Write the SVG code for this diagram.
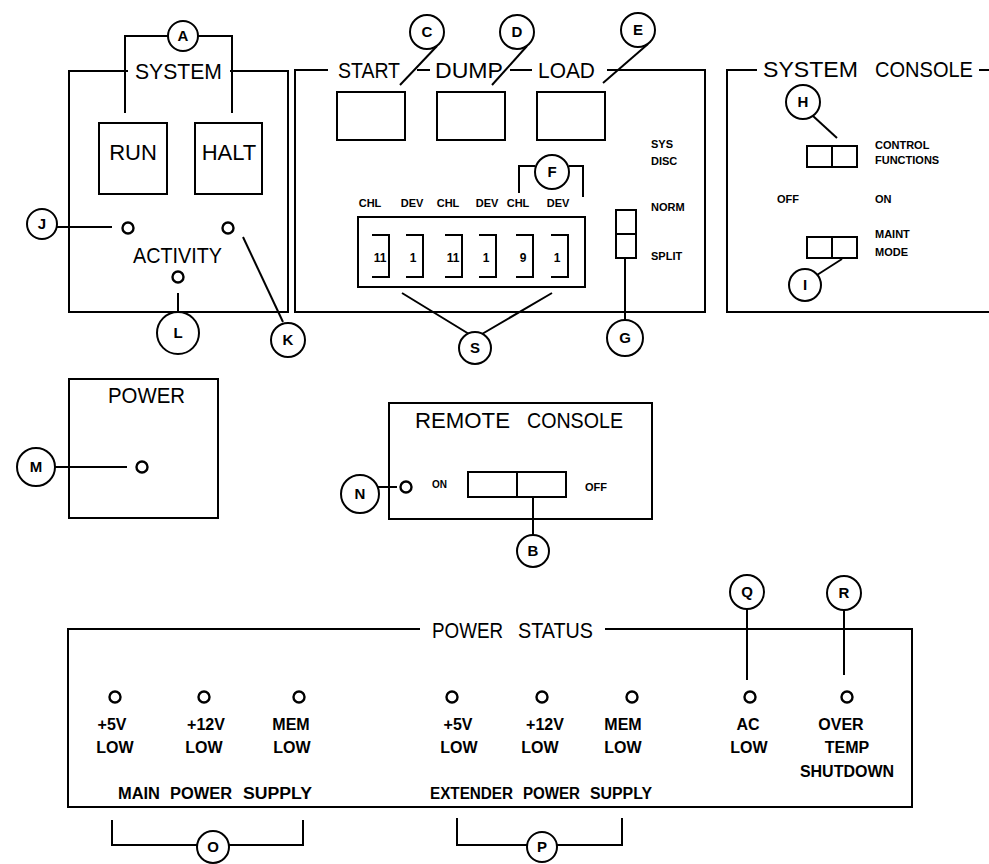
<svg xmlns="http://www.w3.org/2000/svg" width="989" height="864" viewBox="0 0 989 864">
<style>
.ln{fill:none;stroke:#000;stroke-width:2}
.bx{fill:#fff;stroke:#000;stroke-width:2}
.led{fill:#fff;stroke:#000;stroke-width:2.4}
.co{fill:#fff;stroke:#000;stroke-width:2}
text{font-family:"Liberation Sans",Arial,sans-serif;fill:#000}
.t{font-size:22px}
.tm{font-size:22px;text-anchor:middle}
.s{font-size:11px;font-weight:bold}
.sm{font-size:11px;font-weight:bold;text-anchor:middle}
.n{font-size:12px;font-weight:bold;text-anchor:middle}
.p{font-size:16px;font-weight:bold;text-anchor:middle}
.pl{font-size:16px;font-weight:bold}
.c{font-size:15px;font-weight:bold;text-anchor:middle}
</style>
<rect width="989" height="864" fill="#fff"/>

<g id="system-panel">
<path class="ln" d="M128 71 H69 V312 H288 V71 H230"/>
<text class="t" x="135" y="79" textLength="87" lengthAdjust="spacingAndGlyphs">SYSTEM</text>
<rect class="bx" x="99" y="123" width="68" height="71"/>
<rect class="bx" x="195" y="123" width="67" height="71"/>
<text class="tm" x="133" y="160">RUN</text>
<text class="tm" x="229" y="160">HALT</text>
<circle class="led" cx="128" cy="228" r="5.5"/>
<circle class="led" cx="228" cy="228" r="5.5"/>
<circle class="led" cx="178" cy="277" r="5.5"/>
<text class="t" x="133" y="263" textLength="89" lengthAdjust="spacingAndGlyphs">ACTIVITY</text>
</g>

<g id="control-panel">
<path class="ln" d="M328 70 H295 V312 H705 V70 H607"/>
<path class="ln" d="M417 70 H430 M510 70 H532"/>
<text class="t" x="338" y="78" textLength="62" lengthAdjust="spacingAndGlyphs">START</text>
<text class="t" x="435" y="78" textLength="68" lengthAdjust="spacingAndGlyphs">DUMP</text>
<text class="t" x="538" y="78" textLength="57" lengthAdjust="spacingAndGlyphs">LOAD</text>
<rect class="bx" x="337" y="92" width="68" height="48"/>
<rect class="bx" x="437" y="92" width="68" height="48"/>
<rect class="bx" x="537" y="92" width="68" height="48"/>
<text class="sm" x="370" y="207">CHL</text>
<text class="sm" x="412" y="207">DEV</text>
<text class="sm" x="448" y="207">CHL</text>
<text class="sm" x="487" y="207">DEV</text>
<text class="sm" x="518" y="207">CHL</text>
<text class="sm" x="558" y="207">DEV</text>
<rect class="bx" x="358" y="217" width="227" height="70"/>
<path class="ln" d="M372 235 H389 V277 H372 M406 235 H423 V277 H406 M445 235 H462 V277 H445 M479 235 H496 V277 H479 M516 235 H533 V277 H516 M551 235 H568 V277 H551"/>
<text class="n" x="380" y="262">11</text>
<text class="n" x="413" y="262">1</text>
<text class="n" x="453" y="262">11</text>
<text class="n" x="486" y="262">1</text>
<text class="n" x="523" y="262">9</text>
<text class="n" x="557" y="262">1</text>
<text class="s" x="651" y="148">SYS</text>
<text class="s" x="651" y="165">DISC</text>
<text class="s" x="651" y="211">NORM</text>
<text class="s" x="651" y="260">SPLIT</text>
<rect class="bx" x="616" y="210" width="20" height="48"/>
<path class="ln" d="M616 234 H636"/>
</g>

<g id="system-console">
<path class="ln" d="M757 70 H727 V312 H989 M979 70 H989"/>
<text class="t" x="763" y="77" textLength="95" lengthAdjust="spacingAndGlyphs">SYSTEM</text>
<text class="t" x="875" y="77" textLength="98" lengthAdjust="spacingAndGlyphs">CONSOLE</text>
<rect class="bx" x="807" y="146" width="50" height="21"/>
<path class="ln" d="M832 146 V167"/>
<rect class="bx" x="807" y="237" width="50" height="21"/>
<path class="ln" d="M832 237 V258"/>
<text class="s" x="875" y="149">CONTROL</text>
<text class="s" x="875" y="164">FUNCTIONS</text>
<text class="s" x="777" y="203">OFF</text>
<text class="s" x="875" y="203">ON</text>
<text class="s" x="875" y="238">MAINT</text>
<text class="s" x="875" y="256">MODE</text>
</g>

<g id="power-panel">
<rect class="bx" x="69" y="379" width="149" height="139"/>
<text class="t" x="108" y="403" textLength="77" lengthAdjust="spacingAndGlyphs">POWER</text>
<circle class="led" cx="142" cy="467" r="5.5"/>
</g>

<g id="remote-console">
<rect class="bx" x="389" y="403" width="263" height="116"/>
<text class="t" x="415" y="428" textLength="95" lengthAdjust="spacingAndGlyphs">REMOTE</text>
<text class="t" x="527" y="428" textLength="96" lengthAdjust="spacingAndGlyphs">CONSOLE</text>
<circle class="led" cx="406" cy="487" r="5.5"/>
<text class="s" x="432" y="488" style="font-size:10px">ON</text>
<rect class="bx" x="468" y="472" width="98" height="25"/>
<path class="ln" d="M517 472 V497"/>
<text class="s" x="585" y="491">OFF</text>
</g>

<g id="power-status">
<path class="ln" d="M420 629 H68 V807 H912 V629 H605"/>
<text class="t" x="432" y="638" textLength="71" lengthAdjust="spacingAndGlyphs">POWER</text>
<text class="t" x="518" y="638" textLength="75" lengthAdjust="spacingAndGlyphs">STATUS</text>
<circle class="led" cx="115" cy="697" r="5.5"/>
<circle class="led" cx="204" cy="697" r="5.5"/>
<circle class="led" cx="299" cy="697" r="5.5"/>
<circle class="led" cx="452" cy="697" r="5.5"/>
<circle class="led" cx="542" cy="697" r="5.5"/>
<circle class="led" cx="632" cy="697" r="5.5"/>
<circle class="led" cx="750" cy="697" r="5.5"/>
<circle class="led" cx="847" cy="697" r="5.5"/>
<text class="p" x="112" y="730">+5V</text>
<text class="p" x="115" y="753">LOW</text>
<text class="p" x="206" y="730">+12V</text>
<text class="p" x="204" y="753">LOW</text>
<text class="p" x="291" y="730">MEM</text>
<text class="p" x="292" y="753">LOW</text>
<text class="p" x="458" y="730">+5V</text>
<text class="p" x="459" y="753">LOW</text>
<text class="p" x="545" y="730">+12V</text>
<text class="p" x="540" y="753">LOW</text>
<text class="p" x="623" y="730">MEM</text>
<text class="p" x="623" y="753">LOW</text>
<text class="p" x="748" y="730">AC</text>
<text class="p" x="749" y="753">LOW</text>
<text class="p" x="841" y="730">OVER</text>
<text class="p" x="847" y="753">TEMP</text>
<text class="p" x="847" y="777">SHUTDOWN</text>
<text class="pl" x="118" y="799" textLength="42" lengthAdjust="spacingAndGlyphs">MAIN</text>
<text class="pl" x="170" y="799" textLength="62" lengthAdjust="spacingAndGlyphs">POWER</text>
<text class="pl" x="243" y="799" textLength="69" lengthAdjust="spacingAndGlyphs">SUPPLY</text>
<text class="pl" x="430" y="799" textLength="83" lengthAdjust="spacingAndGlyphs">EXTENDER</text>
<text class="pl" x="523" y="799" textLength="57" lengthAdjust="spacingAndGlyphs">POWER</text>
<text class="pl" x="590" y="799" textLength="62" lengthAdjust="spacingAndGlyphs">SUPPLY</text>
</g>

<g id="connectors">
<path class="ln" d="M125 113 V36 H168 M198 36 H232 V113"/>
<path class="ln" d="M57 227 H112"/>
<path class="ln" d="M243 237 L283 322"/>
<path class="ln" d="M178 293 V312"/>
<path class="ln" d="M437 46 L400 85"/>
<path class="ln" d="M527 46 L492 85"/>
<path class="ln" d="M648 44 L603 83"/>
<path class="ln" d="M519 193 V166 H535 M569 166 H583 V197"/>
<path class="ln" d="M402 293 L469 334 M552 293 L482 334"/>
<path class="ln" d="M625 258 V320"/>
<path class="ln" d="M813 116 L837 138"/>
<path class="ln" d="M817 275 L842 259"/>
<path class="ln" d="M55 467 H127"/>
<path class="ln" d="M378 487 H397"/>
<path class="ln" d="M533 497 V535"/>
<path class="ln" d="M112 820 V845 H197 M229 845 H303 V820"/>
<path class="ln" d="M457 818 V845 H527 M557 845 H622 V818"/>
<path class="ln" d="M747 609 V680"/>
<path class="ln" d="M844 610 V675"/>
</g>

<g id="callout-A"><circle class="co" cx="183" cy="36" r="15"/><text class="c" x="183" y="41">A</text></g>
<g id="callout-B"><circle class="co" cx="533" cy="551" r="16"/><text class="c" x="533" y="556">B</text></g>
<g id="callout-C"><circle class="co" cx="427" cy="32" r="17"/><text class="c" x="427" y="37">C</text></g>
<g id="callout-D"><circle class="co" cx="517" cy="32" r="17"/><text class="c" x="517" y="37">D</text></g>
<g id="callout-E"><circle class="co" cx="638" cy="30" r="17"/><text class="c" x="638" y="35">E</text></g>
<g id="callout-F"><circle class="co" cx="552" cy="172" r="17"/><text class="c" x="552" y="177">F</text></g>
<g id="callout-G"><circle class="co" cx="625" cy="338" r="18"/><text class="c" x="625" y="343">G</text></g>
<g id="callout-H"><circle class="co" cx="803" cy="102" r="17"/><text class="c" x="803" y="107">H</text></g>
<g id="callout-I"><circle class="co" cx="805" cy="285" r="16"/><text class="c" x="805" y="290">I</text></g>
<g id="callout-J"><circle class="co" cx="42" cy="224" r="15"/><text class="c" x="42" y="229">J</text></g>
<g id="callout-K"><circle class="co" cx="288" cy="340" r="17"/><text class="c" x="288" y="345">K</text></g>
<g id="callout-L"><circle class="co" cx="178" cy="333" r="21"/><text class="c" x="178" y="338">L</text></g>
<g id="callout-M"><circle class="co" cx="36" cy="467" r="19"/><text class="c" x="36" y="472">M</text></g>
<g id="callout-N"><circle class="co" cx="360" cy="494" r="19"/><text class="c" x="360" y="499">N</text></g>
<g id="callout-O"><circle class="co" cx="213" cy="847" r="16"/><text class="c" x="213" y="852">O</text></g>
<g id="callout-P"><circle class="co" cx="542" cy="847" r="15"/><text class="c" x="542" y="852">P</text></g>
<g id="callout-Q"><circle class="co" cx="747" cy="592" r="17"/><text class="c" x="747" y="597">Q</text></g>
<g id="callout-R"><circle class="co" cx="844" cy="593" r="17"/><text class="c" x="844" y="598">R</text></g>
<g id="callout-S"><circle class="co" cx="475" cy="348" r="16"/><text class="c" x="475" y="353">S</text></g>
</svg>
